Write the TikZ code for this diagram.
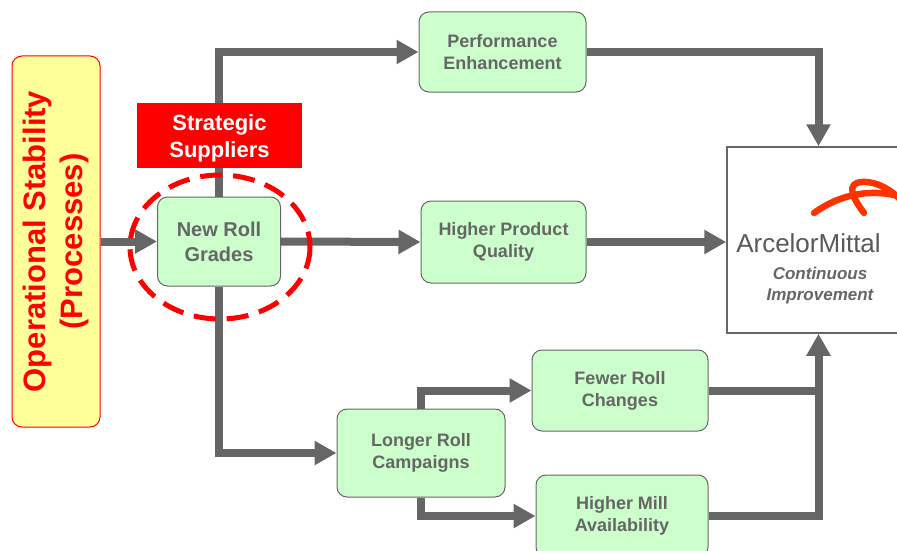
\documentclass[tikz,border=0pt]{standalone}
\usepackage{fontspec}
\setmainfont{Liberation Sans}
\usepackage{tikz}
\usetikzlibrary{shapes}
\usetikzlibrary{positioning}
\usetikzlibrary{arrows.meta}

\definecolor{arrowgray}{HTML}{666666}
\definecolor{boxgreen}{HTML}{CCFFCC}
\definecolor{notepaper}{HTML}{FFFF99}
\definecolor{logored}{HTML}{FF3300}
\definecolor{logogray}{HTML}{58595B}

\begin{document}
\begin{tikzpicture}[x=1pt, y=-1pt,
    flow/.style={line width=8pt, arrowgray, -{Triangle[length=22pt, width=23pt]}},
    joint/.style={line width=8pt, arrowgray},
    result/.style={draw=arrowgray, line width=1pt, fill=boxgreen, rounded corners=10pt, text=arrowgray, font=\bfseries\fontsize{18}{22}\selectfont, align=center, inner sep=0pt}]
    \useasboundingbox (0, 0) rectangle (897, 551); % same frame as the reference
    \clip (0, 0) rectangle (897, 551);
    % boxes
    \node[draw=red, line width=1pt, fill=notepaper, rounded corners=10pt, minimum width=88pt, minimum height=371pt, inner sep=0pt] (ops) at (56, 241.5) {};
    \node[rotate=90, text=red, font=\bfseries\fontsize{31}{37}\selectfont, align=center] at (ops.center) {Operational Stability\\(Processes)};
    \node[result, minimum width=123pt, minimum height=89pt, font=\bfseries\fontsize{20}{25}\selectfont] (grades) at (219, 241.5) {New Roll\\Grades};
    \node[result, minimum width=167pt, minimum height=80pt] (perf) at (502.5, 52) {Performance\\Enhancement};
    \node[result, minimum width=165pt, minimum height=82pt] (quality) at (503.5, 242) {Higher Product\\Quality};
    \node[result, minimum width=168pt, minimum height=88pt] (campaigns) at (421, 453) {Longer Roll\\Campaigns};
    \node[result, minimum width=176pt, minimum height=81pt] (changes) at (620, 390.5) {Fewer Roll\\Changes};
    \node[result, minimum width=172pt, minimum height=82pt] (mill) at (622, 516) {Higher Mill\\Availability};
    \node[draw=arrowgray, line width=1.5pt, fill=white, minimum width=183pt, minimum height=186pt, inner sep=0pt] (arcelor) at (818.5, 240) {};
    % connectors
    \draw[flow] (ops.east) -- (grades.west);
    \draw[flow] (grades.north) |- (perf.west);
    \draw[flow] (grades.east) -- (quality.west);
    \draw[flow] (grades.south) |- (campaigns.west);
    \draw[flow] (perf.east) -| (arcelor.north);
    \draw[flow] (quality.east) -- (quality.east -| arcelor.west);
    \draw[flow] (campaigns.north) |- (changes.west);
    \draw[flow] (campaigns.south) |- (mill.west);
    \draw[joint] (changes.east) -- ([xshift=4pt]changes.east -| arcelor.south);
    \draw[flow] (mill.east) -| (arcelor.south);
    % supplier label and circle on top
    \node[fill=red, minimum width=165pt, minimum height=65pt, inner sep=0pt] (suppliers) at (219.5, 135.5) {};
    \node[text=white, font=\bfseries\fontsize{22}{27}\selectfont, align=center] at ([yshift=-3pt]suppliers.center) {Strategic\\Suppliers};
    \draw[red, line width=5pt, dash pattern=on 22pt off 11pt] (220, 247) ellipse [x radius=90, y radius=72];
    % logo
    \draw[logored, line width=6.5pt, line cap=round] (814, 213) .. controls (840, 194) and (872, 188) .. (902, 197);
    \draw[logored, line width=6.5pt, line cap=round] (864, 213) .. controls (852, 197) and (846, 183) .. (862, 182) .. controls (878, 181) and (892, 191) .. (902, 201);
    \node[anchor=base, text=logogray, font=\fontsize{26}{30}\selectfont, inner sep=0pt] (logo) at (808.5, 252) {ArcelorMittal};
    \node[text=arrowgray, font=\bfseries\itshape\fontsize{17}{21}\selectfont, align=center] (motto) at (820, 285.5) {Continuous\\Improvement};
\end{tikzpicture}
\end{document}
